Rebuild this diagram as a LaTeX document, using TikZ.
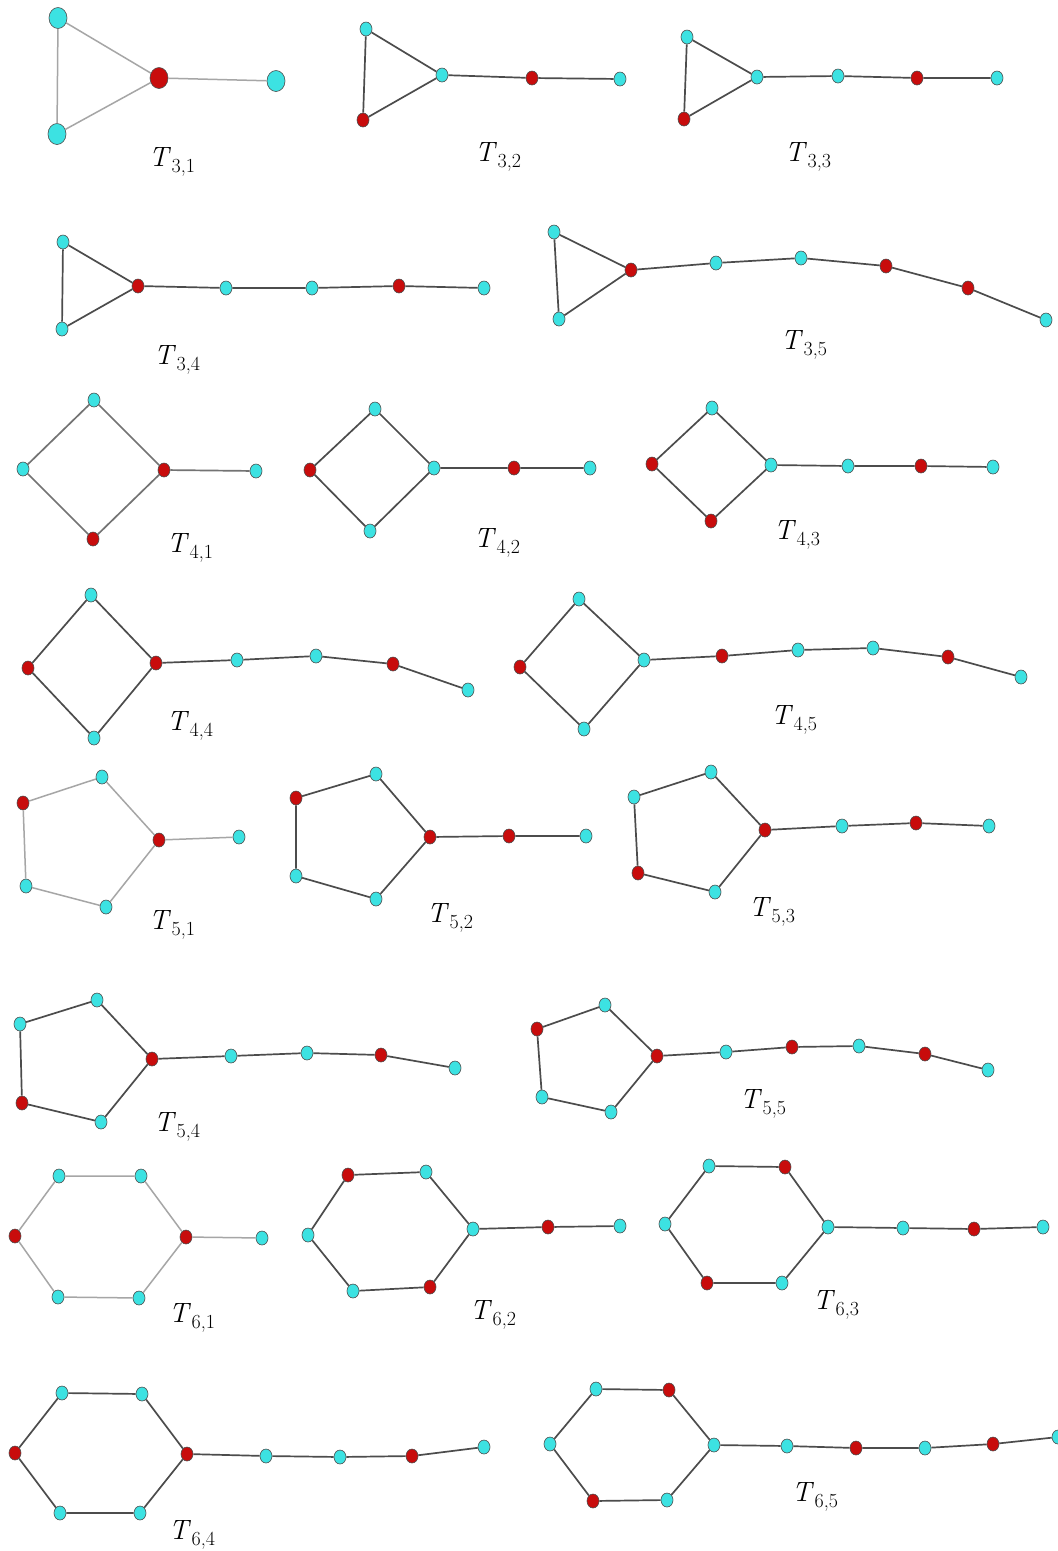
\documentclass[tikz,border=0pt]{standalone}
\usepackage{fontspec}
\usetikzlibrary{shapes.geometric}
\definecolor{cyn}{RGB}{60,226,226}
\definecolor{rdd}{RGB}{200,12,12}
\newcommand\tlab[1]{\textit{T}\kern0.5pt\raisebox{-6pt}{\fontsize{20}{21}\selectfont #1}}
\tikzset{
  vc/.style={ellipse, draw=black!70, line width=0.6pt, fill=cyn, minimum width=12pt, minimum height=14pt, inner sep=0pt},
  vr/.style={vc, fill=rdd},
  big/.style={minimum width=18pt, minimum height=21pt},
  edg/.style={draw=black!70, line width=1.7pt},
  lite/.style={draw=black!35, line width=1.5pt},
  lbl/.style={font=\fontsize{28}{30}\selectfont, inner sep=0pt}
}
\begin{document}
\begin{tikzpicture}[x=1pt,y=-1pt]
\useasboundingbox[fill=white] (0,0) rectangle (1058,1551);
% ---------- T3,1
\node[vc,big] (t31a) at (58,18) {};
\node[vc,big] (t31b) at (57,134) {};
\node[vr,big] (t31c) at (159,78) {};
\node[vc,big] (t31d) at (276,81) {};
\draw[lite] (t31a)--(t31b) (t31a)--(t31c) (t31b)--(t31c) (t31c)--(t31d);
\node[lbl] (l31) at (172,162) {\tlab{3,1}};
% ---------- T3,2
\node[vc] (t32a) at (366,29) {};
\node[vr] (t32b) at (363,120) {};
\node[vc] (t32c) at (442,75) {};
\node[vr] (t32d) at (532,78) {};
\node[vc] (t32e) at (620,79) {};
\draw[edg] (t32a)--(t32b)--(t32c)--(t32a) (t32c)--(t32d)--(t32e);
\node[lbl] (l32) at (498,157) {\tlab{3,2}};
% ---------- T3,3
\node[vc] (t33a) at (687,37) {};
\node[vr] (t33b) at (684,119) {};
\node[vc] (t33c) at (757,77) {};
\node[vc] (t33d) at (838,76) {};
\node[vr] (t33e) at (917,78) {};
\node[vc] (t33f) at (997,78) {};
\draw[edg] (t33a)--(t33b)--(t33c)--(t33a) (t33c)--(t33d)--(t33e)--(t33f);
\node[lbl] (l33) at (808,157) {\tlab{3,3}};
% ---------- T3,4
\node[vc] (t34a) at (63,242) {};
\node[vc] (t34b) at (62,329) {};
\node[vr] (t34c) at (138,286) {};
\node[vc] (t34d) at (226,288) {};
\node[vc] (t34e) at (312,288) {};
\node[vr] (t34f) at (399,286) {};
\node[vc] (t34g) at (484,288) {};
\draw[edg] (t34a)--(t34b)--(t34c)--(t34a) (t34c)--(t34d)--(t34e)--(t34f)--(t34g);
\node[lbl] (l34) at (177,360) {\tlab{3,4}};
% ---------- T3,5
\node[vc] (t35a) at (554,232) {};
\node[vc] (t35b) at (559,319) {};
\node[vr] (t35c) at (631,270) {};
\node[vc] (t35d) at (716,263) {};
\node[vc] (t35e) at (801,258) {};
\node[vr] (t35f) at (886,266) {};
\node[vr] (t35g) at (968,288) {};
\node[vc] (t35h) at (1046,320) {};
\draw[edg] (t35a)--(t35b)--(t35c)--(t35a) (t35c)--(t35d)--(t35e)--(t35f)--(t35g)--(t35h);
\node[lbl] (l35) at (804,345) {\tlab{3,5}};
% ---------- T4,1
\node[vc] (t41a) at (94,400) {};
\node[vc] (t41b) at (23,469) {};
\node[vr] (t41c) at (93,539) {};
\node[vr] (t41d) at (164,470) {};
\node[vc] (t41e) at (256,471) {};
\draw[edg, draw=black!55] (t41a)--(t41b)--(t41c)--(t41d)--(t41a) (t41d)--(t41e);
\node[lbl] (l41) at (190,548) {\tlab{4,1}};
% ---------- T4,2
\node[vc] (t42a) at (375,409) {};
\node[vr] (t42b) at (310,470) {};
\node[vc] (t42c) at (370,531) {};
\node[vc] (t42d) at (434,468) {};
\node[vr] (t42e) at (514,468) {};
\node[vc] (t42f) at (590,468) {};
\draw[edg] (t42a)--(t42b)--(t42c)--(t42d)--(t42a) (t42d)--(t42e)--(t42f);
\node[lbl] (l42) at (497,543) {\tlab{4,2}};
% ---------- T4,3
\node[vc] (t43a) at (712,408) {};
\node[vr] (t43b) at (652,464) {};
\node[vr] (t43c) at (711,521) {};
\node[vc] (t43d) at (771,465) {};
\node[vc] (t43e) at (848,466) {};
\node[vr] (t43f) at (921,466) {};
\node[vc] (t43g) at (993,467) {};
\draw[edg] (t43a)--(t43b)--(t43c)--(t43d)--(t43a) (t43d)--(t43e)--(t43f)--(t43g);
\node[lbl] (l43) at (797,535) {\tlab{4,3}};
% ---------- T4,4
\node[vc] (t44a) at (91,595) {};
\node[vr] (t44b) at (28,668) {};
\node[vc] (t44c) at (94,738) {};
\node[vr] (t44d) at (156,663) {};
\node[vc] (t44e) at (237,660) {};
\node[vc] (t44f) at (316,656) {};
\node[vr] (t44g) at (393,664) {};
\node[vc] (t44h) at (468,690) {};
\draw[edg] (t44a)--(t44b)--(t44c)--(t44d)--(t44a) (t44d)--(t44e)--(t44f)--(t44g)--(t44h);
\node[lbl] (l44) at (190,726) {\tlab{4,4}};
% ---------- T4,5
\node[vc] (t45a) at (579,599) {};
\node[vr] (t45b) at (520,667) {};
\node[vc] (t45c) at (584,729) {};
\node[vc] (t45d) at (644,660) {};
\node[vr] (t45e) at (722,656) {};
\node[vc] (t45f) at (798,650) {};
\node[vc] (t45g) at (873,648) {};
\node[vr] (t45h) at (948,657) {};
\node[vc] (t45i) at (1021,677) {};
\draw[edg] (t45a)--(t45b)--(t45c)--(t45d)--(t45a) (t45d)--(t45e)--(t45f)--(t45g)--(t45h)--(t45i);
\node[lbl] (l45) at (794,720) {\tlab{4,5}};
% ---------- T5,1
\node[vc] (t51a) at (102,777) {};
\node[vr] (t51b) at (23,803) {};
\node[vc] (t51c) at (26,886) {};
\node[vc] (t51d) at (106,907) {};
\node[vr] (t51e) at (159,840) {};
\node[vc] (t51f) at (239,837) {};
\draw[lite] (t51e)--(t51a)--(t51b)--(t51c)--(t51d)--(t51e)--(t51f);
\node[lbl] (l51) at (172,925) {\tlab{5,1}};
% ---------- T5,2
\node[vc] (t52a) at (376,774) {};
\node[vr] (t52b) at (296,798) {};
\node[vc] (t52c) at (296,876) {};
\node[vc] (t52d) at (376,899) {};
\node[vr] (t52e) at (430,837) {};
\node[vr] (t52f) at (509,836) {};
\node[vc] (t52g) at (586,836) {};
\draw[edg] (t52e)--(t52a)--(t52b)--(t52c)--(t52d)--(t52e)--(t52f)--(t52g);
\node[lbl] (l52) at (450,918) {\tlab{5,2}};
% ---------- T5,3
\node[vc] (t53a) at (711,772) {};
\node[vc] (t53b) at (634,797) {};
\node[vr] (t53c) at (638,873) {};
\node[vc] (t53d) at (715,892) {};
\node[vr] (t53e) at (765,830) {};
\node[vc] (t53f) at (842,826) {};
\node[vr] (t53g) at (916,823) {};
\node[vc] (t53h) at (989,826) {};
\draw[edg] (t53e)--(t53a)--(t53b)--(t53c)--(t53d)--(t53e)--(t53f)--(t53g)--(t53h);
\node[lbl] (l53) at (772,912) {\tlab{5,3}};
% ---------- T5,4
\node[vc] (t54a) at (97,1000) {};
\node[vc] (t54b) at (20,1024) {};
\node[vr] (t54c) at (22,1103) {};
\node[vc] (t54d) at (101,1122) {};
\node[vr] (t54e) at (152,1059) {};
\node[vc] (t54f) at (231,1056) {};
\node[vc] (t54g) at (307,1053) {};
\node[vr] (t54h) at (381,1055) {};
\node[vc] (t54i) at (455,1068) {};
\draw[edg] (t54e)--(t54a)--(t54b)--(t54c)--(t54d)--(t54e)--(t54f)--(t54g)--(t54h)--(t54i);
\node[lbl] (l54) at (177,1127) {\tlab{5,4}};
% ---------- T5,5
\node[vc] (t55a) at (605,1005) {};
\node[vr] (t55b) at (537,1029) {};
\node[vc] (t55c) at (542,1097) {};
\node[vc] (t55d) at (611,1112) {};
\node[vr] (t55e) at (657,1056) {};
\node[vc] (t55f) at (726,1052) {};
\node[vr] (t55g) at (792,1047) {};
\node[vc] (t55h) at (859,1046) {};
\node[vr] (t55i) at (925,1054) {};
\node[vc] (t55j) at (988,1070) {};
\draw[edg] (t55e)--(t55a)--(t55b)--(t55c)--(t55d)--(t55e)--(t55f)--(t55g)--(t55h)--(t55i)--(t55j);
\node[lbl] (l55) at (763,1104) {\tlab{5,5}};
% ---------- T6,1
\node[vc] (t61a) at (59,1176) {};
\node[vc] (t61b) at (141,1176) {};
\node[vr] (t61c) at (186,1237) {};
\node[vc] (t61d) at (139,1298) {};
\node[vc] (t61e) at (58,1297) {};
\node[vr] (t61f) at (15,1236) {};
\node[vc] (t61g) at (262,1238) {};
\draw[lite] (t61a)--(t61b)--(t61c)--(t61d)--(t61e)--(t61f)--(t61a) (t61c)--(t61g);
\node[lbl] (l61) at (192,1318) {\tlab{6,1}};
% ---------- T6,2
\node[vr] (t62a) at (348,1175) {};
\node[vc] (t62b) at (426,1172) {};
\node[vc] (t62c) at (473,1229) {};
\node[vr] (t62d) at (430,1287) {};
\node[vc] (t62e) at (353,1291) {};
\node[vc] (t62f) at (308,1235) {};
\node[vr] (t62g) at (548,1227) {};
\node[vc] (t62h) at (620,1226) {};
\draw[edg] (t62a)--(t62b)--(t62c)--(t62d)--(t62e)--(t62f)--(t62a) (t62c)--(t62g)--(t62h);
\node[lbl] (l62) at (493,1315) {\tlab{6,2}};
% ---------- T6,3
\node[vc] (t63a) at (709,1166) {};
\node[vr] (t63b) at (785,1167) {};
\node[vc] (t63c) at (828,1227) {};
\node[vc] (t63d) at (782,1283) {};
\node[vr] (t63e) at (707,1283) {};
\node[vc] (t63f) at (665,1224) {};
\node[vc] (t63g) at (903,1228) {};
\node[vr] (t63h) at (974,1229) {};
\node[vc] (t63i) at (1043,1227) {};
\draw[edg] (t63a)--(t63b)--(t63c)--(t63d)--(t63e)--(t63f)--(t63a) (t63c)--(t63g)--(t63h)--(t63i);
\node[lbl] (l63) at (836,1305) {\tlab{6,3}};
% ---------- T6,4
\node[vc] (t64a) at (62,1393) {};
\node[vc] (t64b) at (142,1394) {};
\node[vr] (t64c) at (187,1454) {};
\node[vc] (t64d) at (140,1513) {};
\node[vc] (t64e) at (60,1513) {};
\node[vr] (t64f) at (15,1453) {};
\node[vc] (t64g) at (266,1456) {};
\node[vc] (t64h) at (340,1457) {};
\node[vr] (t64i) at (412,1456) {};
\node[vc] (t64j) at (484,1447) {};
\draw[edg] (t64a)--(t64b)--(t64c)--(t64d)--(t64e)--(t64f)--(t64a) (t64c)--(t64g)--(t64h)--(t64i)--(t64j);
\node[lbl] (l64) at (192,1535) {\tlab{6,4}};
% ---------- T6,5
\node[vc] (t65a) at (596,1389) {};
\node[vr] (t65b) at (669,1390) {};
\node[vc] (t65c) at (714,1445) {};
\node[vc] (t65d) at (667,1500) {};
\node[vr] (t65e) at (593,1501) {};
\node[vc] (t65f) at (550,1444) {};
\node[vc] (t65g) at (787,1446) {};
\node[vr] (t65h) at (856,1448) {};
\node[vc] (t65i) at (925,1448) {};
\node[vr] (t65j) at (993,1444) {};
\node[vc] (t65k) at (1058,1437) {};
\draw[edg] (t65a)--(t65b)--(t65c)--(t65d)--(t65e)--(t65f)--(t65a) (t65c)--(t65g)--(t65h)--(t65i)--(t65j)--(t65k);
\node[lbl] (l65) at (815,1497) {\tlab{6,5}};
\end{tikzpicture}
\end{document}
